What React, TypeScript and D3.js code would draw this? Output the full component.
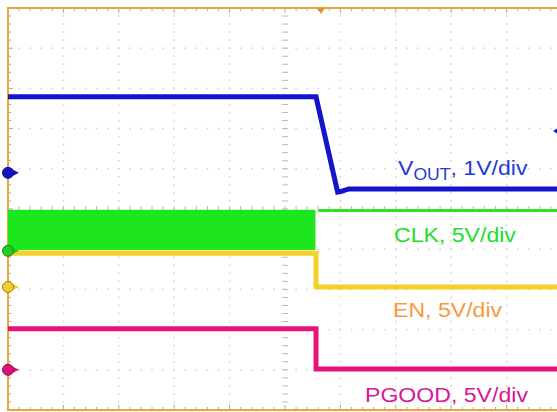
import * as d3 from "d3";
import { useRef, useEffect } from "react";

// time in divisions (0..10), level in divisions from screen centre (-5..5)
const voutTime = [0, 5.56, 5.95, 6.02, 6.15, 10];
const voutLevel = [2.79, 2.79, 0.42, 0.44, 0.5, 0.5];

const clkBandTime = [0, 5.55];
const clkBandHigh = [-0.02, -0.02];
const clkBandLow = [-1.02, -1.02];
const clkTime = [5.6, 10];
const clkLevel = [-0.04, -0.04];

const enTime = [0, 5.56, 5.56, 10];
const enLevel = [-1.1, -1.1, -1.94, -1.94];

const pgoodTime = [0, 5.56, 5.56, 10];
const pgoodLevel = [-2.98, -2.98, -3.98, -3.98];

// channel ground markers on the left edge
const groundLevels = [0.9, -1.04, -1.94, -4.0];
const groundColors = ["#1515c8", "#22cc22", "#f2cc30", "#d8137a"];

const triggerTime = 5.65;
const triggerLevel = 1.94;

const labelTexts = ["CLK, 5V/div", "EN, 5V/div", "PGOOD, 5V/div"];

export default function App() {
  const svgRef = useRef(null);

  useEffect(() => {
    const width = 557;
    const height = 412;

    const x = d3.scaleLinear().domain([0, 10]).range([8, 562]);
    const y = d3.scaleLinear().domain([-5, 5]).range([410, 8]);

    const svg = d3
      .select(svgRef.current)
      .attr("width", width)
      .attr("height", height)
      .attr("viewBox", [0, 0, width, height]);
    svg.selectAll("*").remove();

    svg.append("rect").attr("width", width).attr("height", height).attr("fill", "#fff");

    // dotted graticule
    const grid = svg.append("g").attr("fill", "#d4d4d4");
    const minorT = d3.range(0, 50.01).map((i) => i / 5);
    const minorV = d3.range(-25, 25.01).map((i) => i / 5);
    for (let k = 1; k < 10; k++) {
      if (k === 5) continue;
      grid
        .selectAll(null)
        .data(minorV)
        .join("rect")
        .attr("x", x(k) - 0.8)
        .attr("y", (d) => y(d) - 0.8)
        .attr("width", 1.6)
        .attr("height", 1.6);
    }
    for (let k = -4; k < 5; k++) {
      if (k === 0) continue;
      grid
        .selectAll(null)
        .data(minorT)
        .join("rect")
        .attr("x", (d) => x(d) - 0.8)
        .attr("y", y(k) - 0.8)
        .attr("width", 1.6)
        .attr("height", 1.6);
    }

    // centre axes with tick marks
    const axes = svg.append("g").attr("stroke", "#b8b8b8").attr("stroke-width", 1);
    axes
      .selectAll(null)
      .data(minorV)
      .join("line")
      .attr("x1", x(5) - 3)
      .attr("x2", x(5) + 3)
      .attr("y1", (d) => y(d))
      .attr("y2", (d) => y(d));
    axes
      .selectAll(null)
      .data(minorT)
      .join("line")
      .attr("y1", y(0) - 3)
      .attr("y2", y(0) + 3)
      .attr("x1", (d) => x(d))
      .attr("x2", (d) => x(d));

    // border ticks
    const edge = svg.append("g").attr("stroke", "#a8a8a8").attr("stroke-width", 1);
    edge
      .selectAll(null)
      .data(minorT)
      .join("line")
      .attr("x1", (d) => x(d))
      .attr("x2", (d) => x(d))
      .attr("y1", y(5))
      .attr("y2", (d) => y(5) + (Math.abs(d - Math.round(d)) < 1e-6 ? 5 : 3));
    edge
      .selectAll(null)
      .data(minorT)
      .join("line")
      .attr("x1", (d) => x(d))
      .attr("x2", (d) => x(d))
      .attr("y1", y(-5))
      .attr("y2", (d) => y(-5) - (Math.abs(d - Math.round(d)) < 1e-6 ? 5 : 3));
    edge
      .selectAll(null)
      .data(minorV)
      .join("line")
      .attr("y1", (d) => y(d))
      .attr("y2", (d) => y(d))
      .attr("x1", x(0))
      .attr("x2", (d) => x(0) + (Math.abs(d - Math.round(d)) < 1e-6 ? 5 : 3));

    // frame
    svg
      .append("rect")
      .attr("x", x(0))
      .attr("y", y(5))
      .attr("width", x(10) - x(0))
      .attr("height", y(-5) - y(5))
      .attr("fill", "none")
      .attr("stroke", "#e8a63c")
      .attr("stroke-width", 2);

    const line = d3
      .line<[number, number]>()
      .x((d) => x(d[0]))
      .y((d) => y(d[1]));
    const pairs = (t: number[], v: number[]) => t.map((d, i) => [d, v[i]] as [number, number]);

    // CLK switching band
    const band = d3
      .area<number>()
      .x((d) => x(clkBandTime[d]))
      .y0((d) => y(clkBandLow[d]))
      .y1((d) => y(clkBandHigh[d]));

    // EN
    svg
      .append("path")
      .attr("d", line(pairs(enTime, enLevel)))
      .attr("fill", "none")
      .attr("stroke", "#f4d125")
      .attr("stroke-width", 5);

    svg.append("path").attr("d", band(d3.range(clkBandTime.length))).attr("fill", "#1ee61e");
    svg
      .append("path")
      .attr("d", line(pairs(clkTime, clkLevel)))
      .attr("fill", "none")
      .attr("stroke", "#2ee02a")
      .attr("stroke-width", 3);

    // PGOOD
    svg
      .append("path")
      .attr("d", line(pairs(pgoodTime, pgoodLevel)))
      .attr("fill", "none")
      .attr("stroke", "#e5137a")
      .attr("stroke-width", 5);

    // VOUT
    svg
      .append("path")
      .attr("d", line(pairs(voutTime, voutLevel)))
      .attr("fill", "none")
      .attr("stroke", "#1414cc")
      .attr("stroke-width", 5);

    // ground markers
    const gm = svg
      .append("g")
      .selectAll("g")
      .data(groundLevels)
      .join("g")
      .attr("transform", (d) => `translate(${x(0)},${y(d)})`);
    gm.append("path")
      .attr("d", "M4,-3.5 L11,0 L4,3.5 Z")
      .attr("fill", (d, i) => groundColors[i]);
    gm.append("circle")
      .attr("r", 5.5)
      .attr("fill", (d, i) => groundColors[i])
      .attr("stroke", (d, i) => d3.color(groundColors[i]).darker(1.2))
      .attr("stroke-width", 1);

    // trigger position and level markers
    svg
      .append("path")
      .attr("transform", `translate(${x(triggerTime)},${y(5)})`)
      .attr("d", "M-4,0 L4,0 L0,6 Z")
      .attr("fill", "#e8902a");
    svg
      .append("path")
      .attr("transform", `translate(553,${y(triggerLevel)})`)
      .attr("d", "M0,0 L4,-2.5 L4,2.5 Z")
      .attr("fill", "#1515c8");

    // labels
    const font = "'Liberation Sans', Arial, sans-serif";
    const vt = svg
      .append("text")
      .attr("transform", "translate(398,175) scale(1.1,1)")
      .attr("font-family", font)
      .attr("font-size", 21)
      .attr("fill", "#1f3ad6");
    vt.append("tspan").text("V");
    vt.append("tspan").attr("font-size", 16).attr("dy", 5).text("OUT");
    vt.append("tspan").attr("dy", -5).text(", 1V/div");

    const labelPos = [
      [394, 242, "#22e02a"],
      [393, 317, "#f79a3c"],
      [365, 402, "#d8179a"],
    ];
    labelTexts.forEach((t, i) => {
      const [lx, ly, c] = labelPos[i];
      svg
        .append("text")
        .attr("transform", `translate(${lx},${ly}) scale(1.1,1)`)
        .attr("font-family", font)
        .attr("font-size", 21)
        .attr("fill", c)
        .text(t);
    });
  }, []);

  return (
    <svg ref={svgRef} style={{ position: "absolute", left: 0, top: 0, display: "block" }}></svg>
  );
}
